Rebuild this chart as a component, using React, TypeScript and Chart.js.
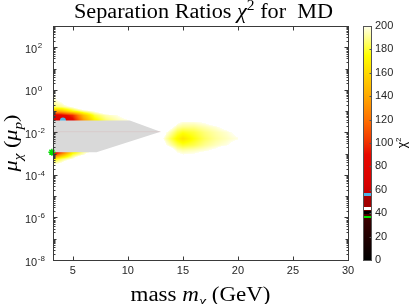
import { useEffect, useRef } from 'react';
import { Chart, registerables } from 'chart.js';

Chart.register(...registerables);

// ---------- axes ----------
const X_MIN = 3.2;
const X_MAX = 30;
const Y_MIN = 1e-8;
const Y_MAX = 1e3;
const xTicks = [5, 10, 15, 20, 25, 30];
const yTickExps = [-8, -6, -4, -2, 0, 2];
const cbTicks = [0, 20, 40, 60, 80, 100, 120, 140, 160, 180, 200];
const CB_MAX = 200;

// ---------- chi^2 map, region above the excluded band ----------
const upperMass = [3.2, 4, 5, 6, 7, 8, 9, 10, 11];
const upperLogMu = [0.3, 0, -0.5, -0.8, -1.0, -1.2, -1.45];
const upperChi2 = [
  [208, 240, 250, 250, 250, 250, 250, 250, 250],
  [198, 222, 250, 250, 250, 250, 250, 250, 250],
  [194, 205, 235, 250, 250, 250, 250, 250, 250],
  [186, 190, 202, 222, 238, 250, 250, 250, 250],
  [140, 150, 175, 192, 202, 215, 230, 245, 250],
  [78, 82, 100, 150, 182, 194, 199, 208, 235],
  [66, 62, 85, 135, 170, 186, 193, 198, 215],
];

// ---------- region below the excluded band ----------
const lowerMass = [3.2, 4, 5, 6, 7, 8];
const lowerLogMu = [-2.9, -3.05, -3.25, -3.5, -3.75];
const lowerChi2 = [
  [58, 100, 165, 190, 200, 225],
  [95, 138, 182, 198, 225, 250],
  [170, 185, 200, 230, 250, 250],
  [196, 206, 240, 250, 250, 250],
  [225, 240, 250, 250, 250, 250],
];

// ---------- island around 15 GeV ----------
const blobMass = [12.5, 13.5, 14.5, 15, 16, 17, 18, 19, 20, 21];
const blobLogMu = [-1.3, -1.5, -1.75, -2.0, -2.3, -2.6, -2.85, -3.1, -3.3];
const blobChi2 = [
  [250, 250, 250, 250, 250, 250, 250, 250, 250, 250],
  [250, 235, 204, 199, 199, 202, 210, 232, 250, 250],
  [250, 212, 193, 190, 190, 194, 198, 205, 232, 250],
  [238, 200, 182, 177, 181, 188, 193, 197, 204, 245],
  [218, 192, 172, 165, 176, 185, 191, 195, 199, 225],
  [238, 200, 184, 179, 183, 190, 195, 199, 208, 245],
  [250, 218, 196, 193, 195, 198, 203, 215, 245, 250],
  [250, 240, 206, 202, 203, 210, 228, 250, 250, 250],
  [250, 250, 250, 250, 250, 250, 250, 250, 250, 250],
];

// ---------- excluded (grey) region ----------
const excludedMass = [3.2, 10.18, 12.97, 7.15, 3.2, 3.2];
const excludedLogMu = [-1.44, -1.44, -1.97, -2.93, -2.93, -1.44];
const seamMass = [3.2, 12.97];
const seamLogMu = [-1.97, -1.97];

// ---------- markers ----------
const cyanMass = [4.1];
const cyanLogMu = [-1.44];
const greenMass = [3.1];
const greenLogMu = [-2.93];

// ---------- colormap ----------
const cmapValues = [0, 35, 42, 45, 54, 58, 65, 90, 100, 120, 140, 160, 175, 190, 200];
const cmapColors = ['#000000', '#3a0000', '#600000', '#a00000', '#a80000', '#c80000', '#d80000', '#e80800', '#f03000', '#ff7000', '#ffa800', '#ffd800', '#ffff00', '#ffff90', '#ffffee'];
const bandLow = [35.5, 39, 42.5, 54.5];
const bandHigh = [38, 41.5, 45, 57.5];
const bandColors = ['#00e600', '#000000', '#ffffff', '#4db3e6'];

const hexRgb = (c: string) => [parseInt(c.slice(1, 3), 16), parseInt(c.slice(3, 5), 16), parseInt(c.slice(5, 7), 16)];
const cmapRgb = cmapColors.map(hexRgb);

function cmap(v: number): string {
  const x = Math.max(0, Math.min(CB_MAX, v));
  let k = 0;
  while (k < cmapValues.length - 2 && x > cmapValues[k + 1]) k++;
  const t = (x - cmapValues[k]) / (cmapValues[k + 1] - cmapValues[k]);
  const a = cmapRgb[k], b = cmapRgb[k + 1];
  const r = Math.round(a[0] + (b[0] - a[0]) * t);
  const g = Math.round(a[1] + (b[1] - a[1]) * t);
  const bl = Math.round(a[2] + (b[2] - a[2]) * t);
  return `rgb(${r},${g},${bl})`;
}

function cbColor(v: number): string {
  for (let i = 0; i < bandLow.length; i++) {
    if (v >= bandLow[i] && v <= bandHigh[i]) return bandColors[i];
  }
  return cmap(v);
}

function locate(arr: number[], v: number): [number, number] | null {
  for (let i = 0; i < arr.length - 1; i++) {
    const a = arr[i], b = arr[i + 1];
    const lo = Math.min(a, b), hi = Math.max(a, b);
    if (v >= lo && v <= hi) return [i, (v - a) / (b - a)];
  }
  return null;
}

function bilinear(xs: number[], ls: number[], vals: number[][], x: number, l: number): number | null {
  const ix = locate(xs, x);
  const iy = locate(ls, l);
  if (!ix || !iy) return null;
  const [i, tx] = ix;
  const [j, ty] = iy;
  const v00 = vals[j][i], v01 = vals[j][i + 1], v10 = vals[j + 1][i], v11 = vals[j + 1][i + 1];
  const top = v00 + (v01 - v00) * tx;
  const bot = v10 + (v11 - v10) * tx;
  return top + (bot - top) * ty;
}

const pts = (ms: number[], ls: number[]) => ms.map((m, i) => ({ x: m, y: Math.pow(10, ls[i]) }));

type Seg = { t: string; it?: boolean; sub?: boolean; sup?: boolean };

function drawRich(ctx: CanvasRenderingContext2D, segs: Seg[], size: number, family: string, cx: number, cy: number, rotate: boolean, targetW: number | null) {
  const fontFor = (s: Seg) => `${s.it ? 'italic ' : ''}${s.sub || s.sup ? Math.round(size * 0.7) : size}px ${family}`;
  const widths = segs.map((s) => { ctx.font = fontFor(s); return ctx.measureText(s.t).width; });
  const total = widths.reduce((a, b) => a + b, 0);
  const stretch = targetW ? targetW / total : 1;
  ctx.save();
  ctx.translate(cx, cy);
  if (rotate) ctx.rotate(-Math.PI / 2);
  ctx.scale(stretch, 1);
  ctx.textBaseline = 'alphabetic';
  ctx.textAlign = 'left';
  let x = -total / 2;
  segs.forEach((s, i) => {
    ctx.font = fontFor(s);
    const dy = s.sub ? size * 0.25 : s.sup ? -size * 0.42 : 0;
    ctx.fillText(s.t, x, dy);
    x += widths[i];
  });
  ctx.restore();
}

const heatPlugin = {
  id: 'heat',
  beforeDatasetsDraw(chart: any) {
    const { ctx, chartArea: a } = chart;
    const xs = chart.scales.x, ys = chart.scales.y;
    ctx.save();
    ctx.beginPath();
    ctx.rect(a.left, a.top, a.right - a.left, a.bottom - a.top);
    ctx.clip();
    const regions: [number[], number[], number[][]][] = [
      [upperMass, upperLogMu, upperChi2],
      [lowerMass, lowerLogMu, lowerChi2],
      [blobMass, blobLogMu, blobChi2],
    ];
    for (const [ms, ls, vals] of regions) {
      const px0 = Math.floor(xs.getPixelForValue(Math.min(...ms)));
      const px1 = Math.ceil(xs.getPixelForValue(Math.max(...ms)));
      const py0 = Math.floor(ys.getPixelForValue(Math.pow(10, Math.max(...ls))));
      const py1 = Math.ceil(ys.getPixelForValue(Math.pow(10, Math.min(...ls))));
      for (let py = py0; py <= py1; py++) {
        const l = Math.log10(ys.getValueForPixel(py + 0.5));
        for (let px = px0; px <= px1; px++) {
          const m = xs.getValueForPixel(px + 0.5);
          const v = bilinear(ms, ls, vals, m, l);
          if (v === null || v >= CB_MAX) continue;
          ctx.fillStyle = cmap(v);
          ctx.fillRect(px, py, 1, 1);
        }
      }
    }
    ctx.restore();
  },
};

const axesPlugin = {
  id: 'axesDeco',
  afterDraw(chart: any) {
    const { ctx, chartArea: a } = chart;
    const xs = chart.scales.x, ys = chart.scales.y, cb = chart.scales.cb;
    const ink = '#262626';
    ctx.save();
    ctx.strokeStyle = '#3a3a3a';
    ctx.fillStyle = ink;
    ctx.lineWidth = 1;
    const L = a.left + 0.5, R = a.right + 0.5, T = a.top + 0.5, B = a.bottom + 0.5;
    ctx.strokeRect(L, T, R - L, B - T);

    // x ticks
    ctx.beginPath();
    for (const v of xTicks) {
      const px = Math.round(xs.getPixelForValue(v)) + 0.5;
      ctx.moveTo(px, B); ctx.lineTo(px, B - 4);
      ctx.moveTo(px, T); ctx.lineTo(px, T + 4);
    }
    // y ticks (major + minor)
    for (let e = -8; e <= 3; e++) {
      const py = Math.round(ys.getPixelForValue(Math.pow(10, e))) + 0.5;
      const len = e % 2 === 0 ? 4 : 3;
      ctx.moveTo(L, py); ctx.lineTo(L + len, py);
      ctx.moveTo(R, py); ctx.lineTo(R - len, py);
      if (e < 3) {
        for (let k = 2; k <= 9; k++) {
          const q = Math.round(ys.getPixelForValue(k * Math.pow(10, e))) + 0.5;
          ctx.moveTo(L, q); ctx.lineTo(L + 2, q);
          ctx.moveTo(R, q); ctx.lineTo(R - 2, q);
        }
      }
    }
    ctx.stroke();

    // x tick labels
    ctx.font = '11px "Liberation Sans", Arial, sans-serif';
    ctx.textAlign = 'center';
    ctx.textBaseline = 'alphabetic';
    for (const v of xTicks) {
      ctx.fillText(String(v), xs.getPixelForValue(v), a.bottom + 14);
    }
    // y tick labels 10^e
    ctx.textAlign = 'left';
    for (const e of yTickExps) {
      const py = ys.getPixelForValue(Math.pow(10, e));
      ctx.font = '11px "Liberation Sans", Arial, sans-serif';
      const w = ctx.measureText('10').width;
      ctx.fillText('10', 25, py + 5.5);
      ctx.font = '8px "Liberation Sans", Arial, sans-serif';
      ctx.fillText(String(e), 25 + w + 0.5, py + 1);
    }

    // title and axis labels
    const serif = '"Liberation Serif", "Times New Roman", serif';
    ctx.fillStyle = '#000';
    drawRich(ctx, [{ t: 'Separation Ratios ' }, { t: 'χ', it: true }, { t: '2', sup: true }, { t: ' for  MD' }], 20, serif, 203.5, 18, false, 259);
    drawRich(ctx, [{ t: 'mass ' }, { t: 'm', it: true }, { t: 'χ', it: true, sub: true }, { t: ' (GeV)' }], 20, serif, (a.left + a.right) / 2, 301, false, 140);
    drawRich(ctx, [{ t: 'μ', it: true }, { t: 'χ', it: true, sub: true }, { t: ' (' }, { t: 'μ', it: true }, { t: 'p', it: true, sub: true }, { t: ')' }], 19, serif, 17, (a.top + a.bottom) / 2, true, 57);

    // colorbar
    const bx0 = a.right + 15, bw = 9;
    const cTop = Math.round(cb.getPixelForValue(CB_MAX));
    const cBot = Math.round(cb.getPixelForValue(0));
    for (let py = cTop; py < cBot; py++) {
      ctx.fillStyle = cbColor(cb.getValueForPixel(py + 0.5));
      ctx.fillRect(bx0, py, bw, 1);
    }
    ctx.strokeStyle = '#555';
    ctx.strokeRect(bx0 + 0.5, cTop + 0.5, bw - 1, cBot - cTop);
    ctx.beginPath();
    for (const v of cbTicks) {
      const py = Math.round(cb.getPixelForValue(v)) + 0.5;
      ctx.moveTo(bx0 + bw - 0.5, py); ctx.lineTo(bx0 + bw - 2.5, py);
    }
    ctx.stroke();
    ctx.fillStyle = ink;
    ctx.font = '11px "Liberation Sans", Arial, sans-serif';
    ctx.textAlign = 'left';
    ctx.textBaseline = 'middle';
    for (const v of cbTicks) {
      ctx.fillText(String(v), bx0 + bw + 3, cb.getPixelForValue(v));
    }
    ctx.fillStyle = '#000';
    drawRich(ctx, [{ t: 'χ' }, { t: '2', sup: true }], 12, '"Liberation Sans", Arial, sans-serif', 406, (a.top + a.bottom) / 2, true, null);
    ctx.restore();
  },
};

export default function App() {
  const ref = useRef<HTMLCanvasElement>(null);
  useEffect(() => {
    const chart = new Chart(ref.current as HTMLCanvasElement, {
      type: 'scatter',
      data: {
        datasets: [
          {
            label: 'green',
            data: pts(greenMass, greenLogMu),
            pointStyle: 'star',
            pointRadius: 3.5,
            borderColor: '#00dd00',
            backgroundColor: '#00dd00',
            borderWidth: 1.5,
            order: 0,
            clip: false,
          } as any,
          {
            label: 'seam',
            data: pts(seamMass, seamLogMu),
            showLine: true,
            pointRadius: 0,
            borderColor: 'rgba(215,165,165,0.25)',
            borderWidth: 1,
            fill: false,
            order: 1,
          },
          {
            label: 'excluded',
            data: pts(excludedMass, excludedLogMu),
            showLine: true,
            pointRadius: 0,
            borderWidth: 0,
            borderColor: 'rgba(0,0,0,0)',
            backgroundColor: '#d9d9d9',
            fill: 'shape',
            tension: 0,
            order: 2,
          } as any,
          {
            label: 'cyan',
            data: pts(cyanMass, cyanLogMu),
            pointStyle: 'circle',
            pointRadius: 3,
            borderWidth: 0,
            backgroundColor: '#4db3e6',
            order: 3,
          },
        ],
      },
      options: {
        responsive: false,
        animation: false,
        layout: { padding: { left: 53, right: 65, top: 26, bottom: 44 } },
        scales: {
          x: { type: 'linear', min: X_MIN, max: X_MAX, display: false },
          y: { type: 'logarithmic', min: Y_MIN, max: Y_MAX, display: false },
          cb: { type: 'linear', axis: 'y', position: 'right', min: 0, max: CB_MAX, display: false },
        } as any,
        plugins: { legend: { display: false }, tooltip: { enabled: false }, title: { display: false } },
      },
      plugins: [heatPlugin, axesPlugin],
    });
    return () => chart.destroy();
  }, []);
  return (
    <div style={{ position: 'absolute', left: 0, top: 0, width: 413, height: 304, background: '#fff' }}>
      <canvas ref={ref} width={413} height={304} style={{ display: 'block', width: 413, height: 304 }} />
    </div>
  );
}
